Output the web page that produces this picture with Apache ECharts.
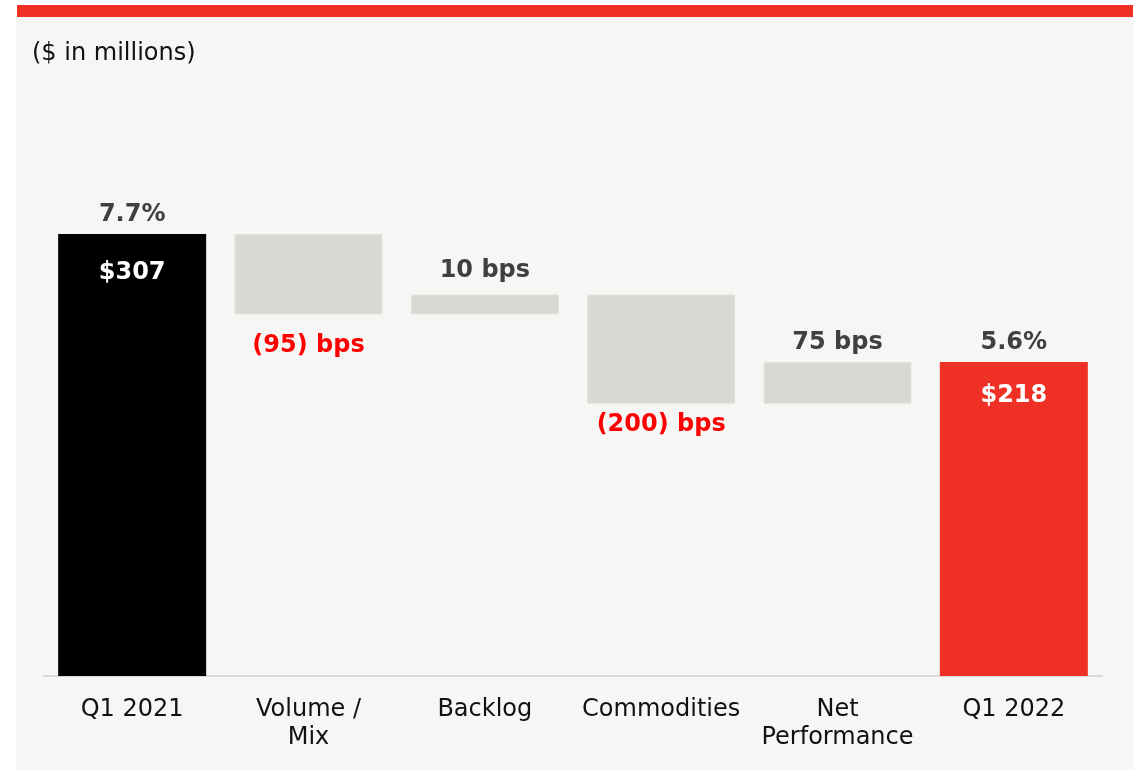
<!DOCTYPE html>
<html>
<head>
<meta charset="utf-8">
<script src="https://cdn.jsdelivr.net/npm/echarts@6/dist/echarts.min.js"></script>
<style>
  html, body { margin: 0; padding: 0; background: #ffffff; }
  #chart { width: 1145px; height: 772px; }
</style>
</head>
<body>
<div id="chart"></div>
<script>
// ---- data ----
const categories = ['Q1 2021', 'Volume /\nMix', 'Backlog', 'Commodities', 'Net\nPerformance', 'Q1 2022'];
const kinds = ['total', 'delta', 'delta', 'delta', 'delta', 'total'];
const startTotal = 307;
const deltas = [null, -56, 14, -76, 29, null];
const endTotal = 218;
const marginLabels = ['7.7%', '(95) bps', '10 bps', '(200) bps', '75 bps', '5.6%'];
const valueLabels = ['$307', '', '', '', '', '$218'];
const unitNote = '($ in millions)';

// ---- styles ----
const FONT = 'DejaVu Sans';
const COLOR_START = '#000000';
const COLOR_END = '#ee3124';
const COLOR_DELTA = '#d9d9d4';
const COLOR_NEG = '#ff0000';
const COLOR_POS = '#404040';
const labelGap = { top: 7, bottom: 10 };
const labelNudge = [0, 9, 5, -1, 0, 0];      // extra gap per category label
const insideGap = [27, 0, 0, 0, 0, 22];       // inside label distance for totals

// ---- build waterfall ----
const baseData = [], barData = [], labelData = [];
let running = 0;
categories.forEach((c, i) => {
  let lo, hi, color, neg = false;
  if (kinds[i] === 'total') {
    const v = i === 0 ? startTotal : endTotal;
    running = v;
    lo = 0; hi = v;
    color = i === 0 ? COLOR_START : COLOR_END;
  } else {
    const d = deltas[i];
    const next = running + d;
    lo = Math.min(running, next); hi = Math.max(running, next);
    neg = d < 0;
    running = next;
    color = COLOR_DELTA;
  }
  baseData.push(lo);
  barData.push({
    value: hi - lo,
    itemStyle: kinds[i] === 'delta'
      ? { color: color, borderColor: '#e3e3df', borderWidth: 1 }
      : { color: color },
    label: {
      show: !!valueLabels[i],
      formatter: valueLabels[i],
      position: 'insideTop',
      distance: insideGap[i],
      color: '#ffffff',
      fontFamily: FONT, fontWeight: 'bold', fontSize: 24
    }
  });
  labelData.push({
    value: [i, neg ? lo : hi],
    label: {
      show: true,
      formatter: marginLabels[i],
      position: neg ? 'bottom' : 'top',
      distance: (neg ? labelGap.bottom : labelGap.top) + labelNudge[i],
      color: neg ? COLOR_NEG : COLOR_POS,
      fontFamily: FONT, fontWeight: 'bold', fontSize: 24
    }
  });
});

const chart = echarts.init(document.getElementById('chart'), null, { renderer: 'canvas' });
chart.setOption({
  backgroundColor: '#ffffff',
  animation: false,
  graphic: [
    { type: 'rect', z: -10, shape: { x: 16, y: 17, width: 1118, height: 753 }, style: { fill: '#f6f6f4' } },
    { type: 'rect', z: -9, shape: { x: 17, y: 5, width: 1116, height: 12 }, style: { fill: '#ee3124' } },
    { type: 'text', left: 32, top: 42, style: { text: unitNote, font: '24px "DejaVu Sans"', fill: '#111111' } }
  ],
  grid: { left: 44, right: 43, top: 100, bottom: 96, containLabel: false },
  xAxis: {
    type: 'category',
    data: categories,
    axisLine: { show: true, lineStyle: { color: '#d9d9d9', width: 2 } },
    axisTick: { show: false },
    axisLabel: {
      interval: 0, margin: 20, color: '#111111',
      fontFamily: FONT, fontSize: 24, lineHeight: 28
    }
  },
  yAxis: { type: 'value', min: 0, max: 400, show: false, splitLine: { show: false } },
  series: [
    { type: 'bar', stack: 'w', data: baseData, barWidth: 148,
      itemStyle: { color: 'transparent' }, silent: true },
    { type: 'bar', stack: 'w', data: barData, barWidth: 148 },
    { type: 'scatter', data: labelData, symbolSize: 0, z: 10, silent: true,
      itemStyle: { opacity: 1 } }
  ]
});
</script>
</body>
</html>
